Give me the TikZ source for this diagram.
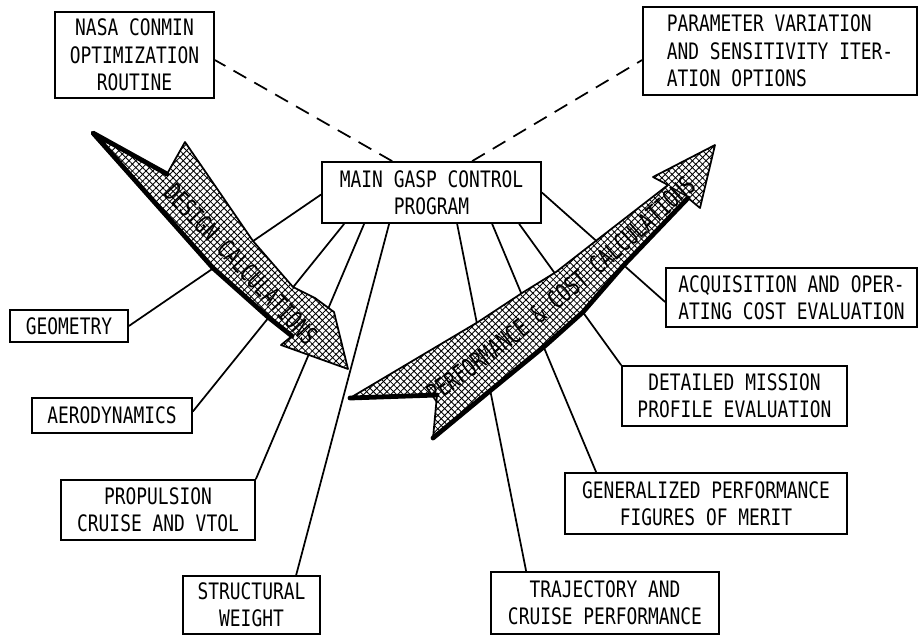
\documentclass[tikz,border=0pt]{standalone}
\usepackage{fontspec}
\newfontfamily\lblfont[FakeStretch=0.79]{DejaVu Sans Mono}
\newfontfamily\arrfont[FakeStretch=0.72]{DejaVu Sans Mono}
\usetikzlibrary{calc,patterns.meta,decorations.text}
\tikzset{
  box/.style={draw, line width=1.3pt, inner sep=0pt, align=center,
    font={\lblfont\fontsize{17}{20.6}\selectfont}},
  conn/.style={line width=1.3pt},
  dashline/.style={line width=1.3pt, dash pattern=on 11pt off 7pt},
  arrowbody/.style={line width=1.3pt, line join=round,
    preaction={fill=white},
    preaction={pattern={Lines[angle=45,distance=3.6pt,line width=0.65pt]}},
    preaction={pattern={Lines[angle=-45,distance=3.6pt,line width=0.65pt]}}},
  shadowedge/.style={line width=3.6pt, line join=round, line cap=round},
  arrtext/.style={font={\arrfont\fontsize{19}{19}\selectfont}, inner sep=0pt},
  perftext/.style={decorate, decoration={text along path, text align=center, text color=#1,
    text={|\arrfont\fontsize{19}{19}\selectfont|PERFORMANCE {\&} COST CALCULATIONS}}}
}
\begin{document}
\begin{tikzpicture}[x=0.75pt, y=-0.75pt]
\useasboundingbox (0,0) rectangle (919,636);

% boxes
\node[box, minimum width=119.25pt, minimum height=64.5pt] (nasa) at (134.5,55) {NASA CONMIN\\OPTIMIZATION\\ROUTINE};
\node[box, align=left, minimum width=205.5pt, minimum height=66pt] (param) at (780,51) {PARAMETER VARIATION\\AND SENSITIVITY ITER-\\ATION OPTIONS};
\node[box, minimum width=164.25pt, minimum height=45.75pt] (main) at (431.5,192.5) {MAIN GASP CONTROL\\PROGRAM};
\node[box, minimum width=88.5pt, minimum height=24pt] (geo) at (69,326) {GEOMETRY};
\node[box, minimum width=120pt, minimum height=26.25pt] (aero) at (112,415.5) {AERODYNAMICS};
\node[box, minimum width=145.5pt, minimum height=45pt] (prop) at (158,510) {PROPULSION\\CRUISE AND VTOL};
\node[box, minimum width=102.75pt, minimum height=43.5pt] (struct) at (251.5,605) {STRUCTURAL\\WEIGHT};
\node[box, minimum width=171pt, minimum height=46.5pt] (traj) at (605,603) {TRAJECTORY AND\\CRUISE PERFORMANCE};
\node[box, minimum width=211.5pt, minimum height=45.75pt] (gen) at (706,503.5) {GENERALIZED PERFORMANCE\\FIGURES OF MERIT};
\node[box, minimum width=168.75pt, minimum height=45pt] (det) at (734.5,396) {DETAILED MISSION\\PROFILE EVALUATION};
\node[box, align=left, minimum width=188.25pt, minimum height=44.25pt] (acq) at (791.5,297.5) {ACQUISITION AND OPER-\\ATING COST EVALUATION};

% connectors
\draw[dashline] ($(main.north west)+(71,0)$) -- ($(nasa.east)+(0,5)$);
\draw[dashline] ($(main.north west)+(151,0)$) -- ($(param.west)+(0,9)$);
\draw[conn] ($(main.west)+(0,2)$) -- (geo.east);
\draw[conn] ($(main.south west)+(23,0)$) -- ($(aero.east)+(0,-4)$);
\draw[conn] ($(main.south west)+(43,0)$) -- (prop.north east);
\draw[conn] ($(main.south west)+(68,0)$) -- ($(struct.north west)+(114,0)$);
\draw[conn] ($(main.south west)+(136,0)$) -- ($(traj.north west)+(36,0)$);
\draw[conn] ($(main.south west)+(171,0)$) -- ($(gen.north west)+(32,0)$);
\draw[conn] ($(main.south west)+(198,0)$) -- (det.north west);
\draw[conn] (main.east) -- ($(acq.west)+(0,4.5)$);

% design calculations arrow
\draw[arrowbody] (93,133) -- (167,174) -- (185,142) -- (253,241) -- (293,287) -- (315,298)
  -- (334,312) -- (348,369) -- (281,345) -- (292,336) -- (268,317) -- (213,268) -- cycle;
\draw[shadowedge] (292,336) -- (268,317) -- (213,268) -- (93,133) -- (167,174);
\node[arrtext, rotate=-46.5] (dtext) at (241,264) {DESIGN CALCULATIONS};

% performance & cost calculations arrow
\draw[arrowbody] (350,398) -- (437,395) -- (433,438) -- (491,390) -- (546,345) -- (583,312)
  -- (623,266) -- (688,198) -- (700,208) -- (715,145) -- (653,177) -- (668,185)
  -- (597,240) -- (556,272) -- (522,293) -- (478,322) -- cycle;
\draw[shadowedge] (350,398) -- (437,395);
\draw[shadowedge] (433,438) -- (491,390) -- (546,345) -- (583,312) -- (623,266) -- (688,198);
\path[perftext=black] (425,410) .. controls (500,360) and (610,270) .. (705,180);
\end{tikzpicture}
\end{document}
